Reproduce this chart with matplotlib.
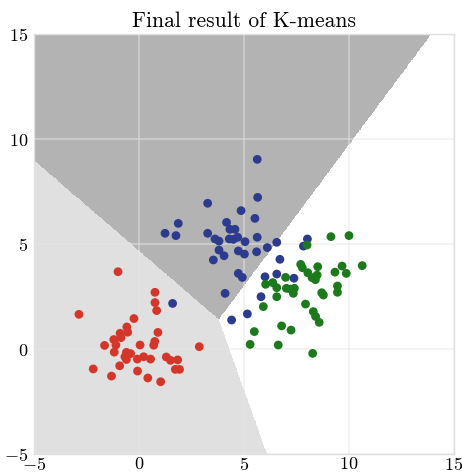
import numpy as np
import matplotlib
matplotlib.use("Agg")
import matplotlib.pyplot as plt
from matplotlib.colors import ListedColormap

plt.rcParams['font.family'] = 'serif'
plt.rcParams['font.serif'] = ['cmr10']
plt.rcParams['mathtext.fontset'] = 'cm'
plt.rcParams['axes.formatter.use_mathtext'] = True

title = "Final result of K-means"
xlim = (-5, 15)
ylim = (-5, 15)
ticks = [-5, 0, 5, 10, 15]

# final centroids (red, blue, green clusters)
centroids = np.array([
    [-0.05, 0.33],
    [4.29, 5.37],
    [7.46, 3.01],
])

red_x = [-1.00, 0.76, 0.76, 0.84, -2.86, -0.24, -0.58, -0.54, -0.90, -0.86,
         -1.64, -1.10, 0.05, 0.70, 0.75, 0.90, 2.87, -1.18, -0.60, -0.40,
         -0.60, -0.08, 0.22, 0.55, -0.92, -2.18, -1.31, -0.07, 0.42, 1.03,
         1.30, 1.50, 1.84, 1.73, 1.93, -0.67, -1.20]
red_y = [3.68, 2.70, 2.21, 1.83, 1.65, 1.45, 1.05, 0.80, 0.75, 0.54,
         0.17, 0.19, 0.19, 0.18, 0.36, 0.79, 0.11, -0.15, -0.16, -0.22,
         -0.50, -0.48, -0.37, -0.48, -0.80, -0.95, -1.29, -1.05, -1.38, -1.56,
         -0.38, -0.54, -0.52, -0.97, -0.97, -0.37, 0.45]

blue_x = [5.63, 5.65, 3.27, 4.86, 5.52, 1.87, 4.17, 1.24, 1.76, 3.27,
          4.33, 4.57, 3.62, 3.81, 4.30, 4.49, 4.70, 5.05, 5.63, 6.56,
          6.11, 5.60, 3.81, 4.05, 4.73, 5.02, 3.54, 6.71, 4.73, 4.92,
          4.10, 1.60, 6.00, 6.56, 7.38, 8.02, 7.83, 5.81, 5.16, 4.41]
blue_y = [9.03, 7.22, 6.94, 6.59, 6.22, 5.98, 6.03, 5.51, 5.40, 5.51,
          5.70, 5.70, 5.24, 5.14, 5.24, 5.22, 5.32, 5.11, 5.32, 5.08,
          4.83, 4.63, 4.71, 4.44, 4.67, 4.52, 4.24, 4.27, 3.60, 3.41,
          2.65, 2.17, 3.44, 3.57, 3.37, 5.24, 4.90, 2.49, 1.67, 1.38]

green_x = [9.14, 10.00, 8.00, 7.70, 7.78, 8.51, 9.67, 10.63, 9.33, 9.87,
           8.04, 8.24, 8.48, 8.40, 6.98, 6.37, 6.03, 6.56, 7.02, 7.22,
           7.40, 7.35, 6.56, 8.70, 8.78, 9.45, 9.45, 5.92, 7.93, 8.30,
           8.41, 8.58, 6.79, 7.24, 5.49, 5.29, 6.63, 8.27]
green_y = [5.35, 5.40, 4.95, 4.03, 3.87, 3.92, 3.95, 3.97, 3.66, 3.60,
           3.63, 3.40, 3.52, 3.30, 3.41, 3.16, 3.08, 2.92, 2.89, 2.85,
           2.89, 2.65, 2.49, 2.68, 2.57, 3.00, 2.70, 2.02, 2.14, 1.78,
           1.55, 1.27, 1.10, 0.90, 0.83, 0.22, 0.19, -0.21]

region_colors = ['#e0e0e0', '#b3b3b3', '#ffffff']
point_colors = ['#d4372a', '#2d3b8e', '#1c7a1c']

fig = plt.figure(figsize=(4.62, 4.75), dpi=100)
ax = fig.add_axes([34/462, 21/475, 420/462, 420/475])

# Voronoi regions of the centroids
gx = np.linspace(xlim[0], xlim[1], 800)
gy = np.linspace(ylim[0], ylim[1], 800)
XX, YY = np.meshgrid(gx, gy)
d = (XX[..., None] - centroids[:, 0])**2 + (YY[..., None] - centroids[:, 1])**2
lab = np.argmin(d, axis=2)
ax.imshow(lab, origin='lower', extent=(xlim[0], xlim[1], ylim[0], ylim[1]),
          cmap=ListedColormap(region_colors), vmin=-0.5, vmax=2.5,
          interpolation='nearest', aspect='auto', zorder=0)

ax.grid(True, color='#e6e6e6', alpha=0.55, linewidth=1.2, zorder=1)
ax.set_axisbelow(False)

for xs, ys, c in [(red_x, red_y, point_colors[0]),
                  (blue_x, blue_y, point_colors[1]),
                  (green_x, green_y, point_colors[2])]:
    ax.scatter(xs, ys, s=40, color=c, edgecolors='none', zorder=3)

ax.set_xlim(*xlim)
ax.set_ylim(*ylim)
ax.set_xticks(ticks)
ax.set_yticks(ticks)
ax.tick_params(length=0, labelsize=13)
ax.tick_params(axis='x', pad=1.5)
ax.tick_params(axis='y', pad=4)
for s in ax.spines.values():
    s.set_color('#e0e0e0')
    s.set_linewidth(1.0)
ax.set_title(title, fontsize=15.5, pad=5)

fig.savefig('out.png', dpi=100)
